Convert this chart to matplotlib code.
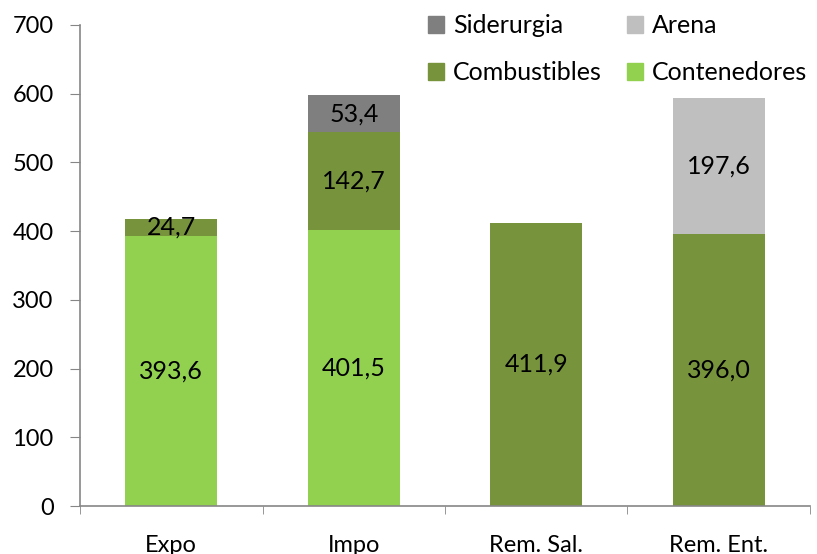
import matplotlib.pyplot as plt
import numpy as np
from matplotlib.patches import Patch

categories = ["Expo", "Impo", "Rem. Sal.", "Rem. Ent."]
contenedores = [393.6, 401.5, 0, 0]
combustibles = [24.7, 142.7, 411.9, 396.0]
siderurgia = [0, 53.4, 0, 0]
arena = [0, 0, 0, 197.6]

colors = {
    "Contenedores": "#92D050",
    "Combustibles": "#77933C",
    "Siderurgia": "#7F7F7F",
    "Arena": "#BFBFBF",
}

plt.rcParams['font.family'] = ['Lato', 'DejaVu Sans']
fig = plt.figure(figsize=(8.17, 5.54), dpi=100)
ax = fig.add_axes([0.098, 0.0866, 0.8934, 0.8683])

x = np.arange(len(categories))
w = 0.505
bottom = np.zeros(len(categories))
for name, vals in [("Contenedores", contenedores), ("Combustibles", combustibles),
                   ("Siderurgia", siderurgia), ("Arena", arena)]:
    vals = np.array(vals)
    ax.bar(x, vals, w, bottom=bottom, color=colors[name])
    for i, v in enumerate(vals):
        if v > 0:
            ax.text(x[i], bottom[i] + v / 2, f"{v:.1f}".replace(".", ","),
                    ha="center", va="center", fontsize=18, color="black")
    bottom += vals

ax.set_xlim(-0.5, 3.5)
ax.set_ylim(0, 700)
ax.set_yticks(range(0, 701, 100))
ax.set_xticks(x)
ax.set_xticklabels(categories)
ax.set_xticks(np.arange(-0.5, 4, 1), minor=True)
ax.tick_params(axis="x", which="major", length=0, pad=21, labelsize=17)
ax.tick_params(axis="x", which="minor", length=6, color="#868686", direction="out")
ax.tick_params(axis="y", length=7, color="#868686", labelsize=17, pad=12)
for s in ["top", "right"]:
    ax.spines[s].set_visible(False)
for s in ["left", "bottom"]:
    ax.spines[s].set_color("#868686")
    ax.spines[s].set_linewidth(1.2)

handles = [Patch(color=colors["Siderurgia"]), Patch(color=colors["Combustibles"]),
           Patch(color=colors["Arena"]), Patch(color=colors["Contenedores"])]
labels = ["Siderurgia", "Combustibles", "Arena", "Contenedores"]
ax.legend(handles, labels, ncol=2, frameon=False, fontsize=18,
          loc="upper left", bbox_to_anchor=(0.477, 1.022),
          borderpad=0, borderaxespad=0,
          handlelength=0.65, handleheight=0.65, handletextpad=0.35,
          columnspacing=1.0, labelspacing=0.95)

fig.savefig("out.png", dpi=100)
